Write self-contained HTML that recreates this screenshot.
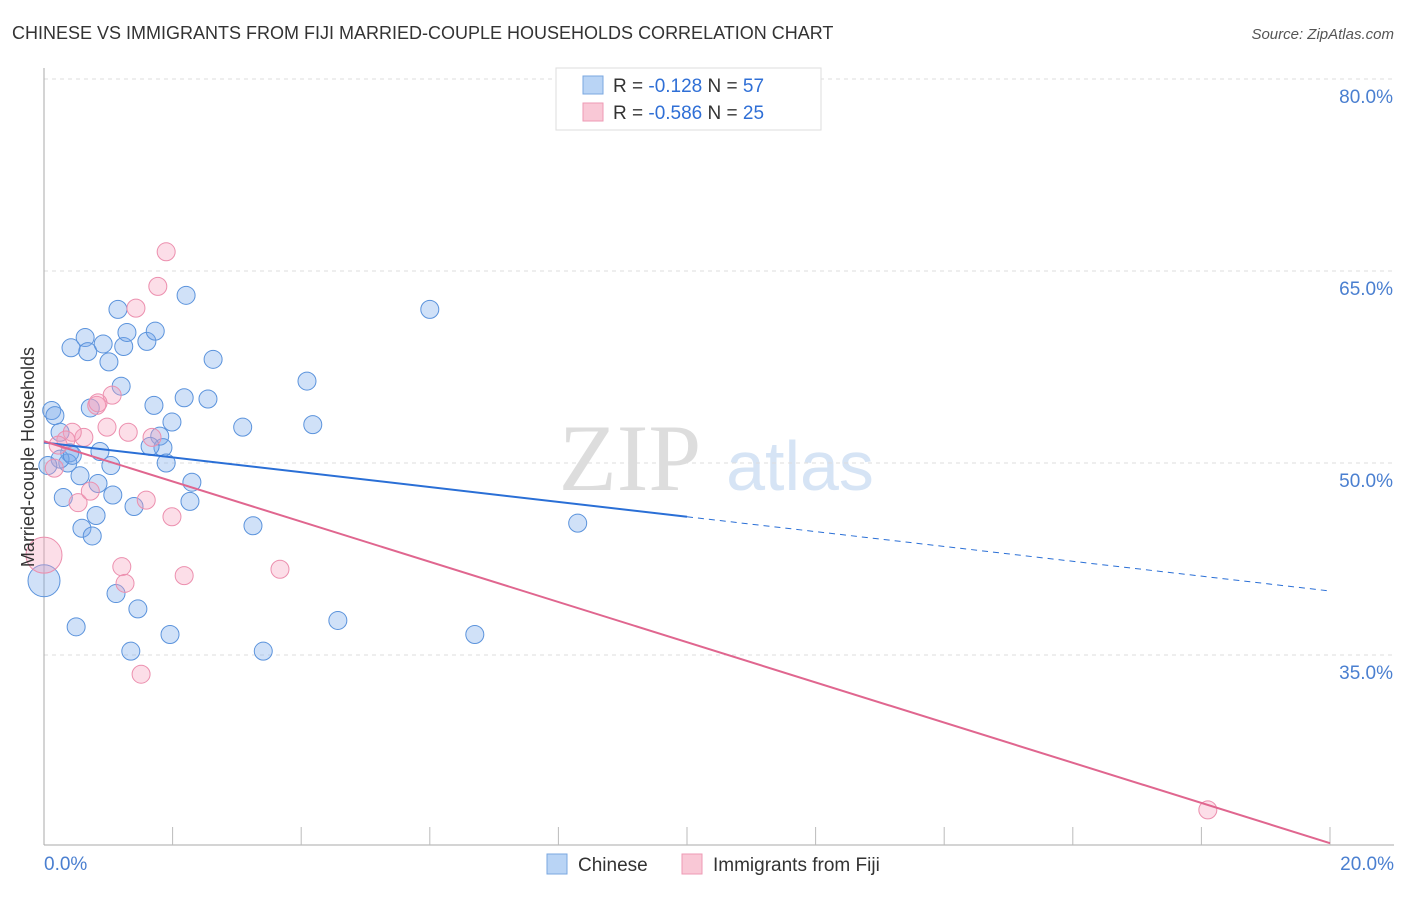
<!DOCTYPE html>
<html><head><meta charset="utf-8"><style>
body{margin:0;background:#fff;font-family:"Liberation Sans",sans-serif}
</style></head><body>
<svg id="c" width="1406" height="892" xmlns="http://www.w3.org/2000/svg" style="font-family:'Liberation Sans',sans-serif">
<text x="12" y="39" font-size="18" fill="#333">CHINESE VS IMMIGRANTS FROM FIJI MARRIED-COUPLE HOUSEHOLDS CORRELATION CHART</text>
<text x="1394" y="39" font-size="15" fill="#555" font-style="italic" text-anchor="end">Source: ZipAtlas.com</text>
<text x="630" y="490" font-size="95" fill="#ddd" font-family="Liberation Serif" text-anchor="middle">ZIP</text>
<text x="800" y="490" font-size="70" fill="#d6e4f5" text-anchor="middle">atlas</text>
<g id="grid"></g><g id="axes"></g><g id="pts"></g><g id="trend"></g>
<text transform="translate(34,457) rotate(-90)" font-size="18" fill="#333" text-anchor="middle">Married-couple Households</text>
<g>
<rect x="556" y="68" width="265" height="62" fill="#fff" stroke="#ddd"/>
<rect x="583" y="76" width="20" height="18" fill="#b9d4f5" stroke="#7aa7e0"/>
<rect x="583" y="103" width="20" height="18" fill="#f9c8d6" stroke="#ee9ab4"/>
<text x="613" y="92" font-size="19" fill="#333">R = <tspan fill="#2f6fd6">-0.128</tspan>   N = <tspan fill="#2f6fd6">57</tspan></text>
<text x="613" y="119" font-size="19" fill="#333">R = <tspan fill="#2f6fd6">-0.586</tspan>   N = <tspan fill="#2f6fd6">25</tspan></text>
</g>
<g>
<rect x="547" y="854" width="20" height="20" fill="#b9d4f5" stroke="#7aa7e0"/>
<text x="578" y="871" font-size="19" fill="#333">Chinese</text>
<rect x="682" y="854" width="20" height="20" fill="#f9c8d6" stroke="#ee9ab4"/>
<text x="713" y="871" font-size="19" fill="#333">Immigrants from Fiji</text>
</g>
</svg>
<script>
const yTicks=[80,65,50,35];
const xTickLabels=["0.0%","20.0%"];
const chineseX=[0.12,0.17,0.25,0.42,0.64,0.68,0.92,1.01,1.2,1.15,1.24,1.29,1.6,1.73,2.21,2.63,1.71,1.99,2.18,2.55,0.72,1.8,1.85,1.65,1.9,2.3,2.27,3.09,3.25,4.09,4.18,6.0,8.3,6.7,4.57,3.41,1.96,1.35,1.46,1.12,0.5,0.59,0.75,0.81,0.84,1.07,1.4,0.3,0.56,1.04,0.87,0.4,0.37,0.25,0.06,0.0,0.44];
const chineseY=[74.1-20.7+0,53.7,52.4,59.0,59.8,58.7,59.3,57.9,56.0,62.0,59.1,60.2,59.5,60.3,63.1,58.1,54.5,53.2,55.1,55.0,54.3,52.1,51.2,51.3,50.0,48.5,47.0,52.8,45.1,56.4,53.0,62.0,45.3,36.6,37.7,35.3,36.6,35.3,38.6,39.8,37.2,44.9,44.3,45.9,48.4,47.5,46.6,47.3,49.0,49.8,50.9,50.8,50.0,50.3,49.8,40.8,50.6];
const fijiX=[1.9,1.77,1.43,1.06,0.82,0.84,1.31,0.98,0.62,0.44,0.34,0.22,0.16,0.53,0.72,1.59,1.99,1.68,1.21,1.26,2.18,3.67,1.51,18.1,0.0];
const fijiY=[66.5,63.8,62.1,55.3,54.5,54.7,52.4,52.8,52.0,52.4,51.8,51.4,49.6,46.9,47.8,47.1,45.8,52.0,41.9,40.6,41.2,41.7,33.5,22.9,42.8];
const chineseSize=[9,9,9,9,9,9,9,9,9,9,9,9,9,9,9,9,9,9,9,9,9,9,9,9,9,9,9,9,9,9,9,9,9,9,9,9,9,9,9,9,9,9,9,9,9,9,9,9,9,9,9,9,9,9,9,16,9];
const fijiSize=[9,9,9,9,9,9,9,9,9,9,9,9,9,9,9,9,9,9,9,9,9,9,9,9,18];
chineseY[0]=54.1;
const blueTrend=[[0,51.6],[10,45.8],[20,40.0]];
const pinkTrend=[[0,51.7],[20,20.3]];
const NS="http://www.w3.org/2000/svg";
const X=v=>44+v*64.3, Y=v=>79+(80-v)*12.8;
function mk(t,a,p){const e=document.createElementNS(NS,t);for(const k in a)e.setAttribute(k,a[k]);document.getElementById(p).appendChild(e);return e;}
yTicks.forEach(t=>{
 const l=mk('line',{x1:44,x2:1394,y1:Y(t),y2:Y(t),stroke:'#ddd','stroke-dasharray':'4,4'},'grid');
 
 
 const tx=mk('text',{x:1393,y:Y(t)+24,'font-size':19,fill:'#4a7fd0','text-anchor':'end'},'grid');tx.textContent=t.toFixed(1)+'%';
 
 
});
mk('line',{x1:44,x2:44,y1:68,y2:845,stroke:'#aaa'},'axes');
mk('line',{x1:44,x2:1394,y1:845,y2:845,stroke:'#aaa'},'axes');
for(let i=1;i<=10;i++){mk('line',{x1:X(i*2),x2:X(i*2),y1:827,y2:845,stroke:'#bbb'},'axes');}
const xl0=mk('text',{x:44,y:870,'font-size':19,fill:'#4a7fd0'},'axes');xl0.textContent=xTickLabels[0];


const xl1=mk('text',{x:1394,y:870,'font-size':19,fill:'#4a7fd0','text-anchor':'end'},'axes');xl1.textContent=xTickLabels[1];


chineseX.forEach((x,i)=>{const c=mk('circle',{cx:X(x),cy:Y(chineseY[i]),r:chineseSize[i],fill:'rgba(120,170,235,0.35)',stroke:'#5b93dc','stroke-width':1},'pts');
 
 });
fijiX.forEach((x,i)=>{const c=mk('circle',{cx:X(x),cy:Y(fijiY[i]),r:fijiSize[i],fill:'rgba(245,160,190,0.35)',stroke:'#ec8fae','stroke-width':1},'pts');
 
 });
let b1=mk('line',{x1:X(blueTrend[0][0]),y1:Y(blueTrend[0][1]),x2:X(blueTrend[1][0]),y2:Y(blueTrend[1][1]),stroke:'#2a6fd6','stroke-width':2},'trend');


let b2=mk('line',{x1:X(blueTrend[1][0]),y1:Y(blueTrend[1][1]),x2:X(blueTrend[2][0]),y2:Y(blueTrend[2][1]),stroke:'#2a6fd6','stroke-width':1,'stroke-dasharray':'6,5'},'trend');


let p1=mk('line',{x1:X(pinkTrend[0][0]),y1:Y(pinkTrend[0][1]),x2:X(pinkTrend[1][0]),y2:Y(pinkTrend[1][1]),stroke:'#e0668f','stroke-width':2},'trend');


</script>
</body></html>
